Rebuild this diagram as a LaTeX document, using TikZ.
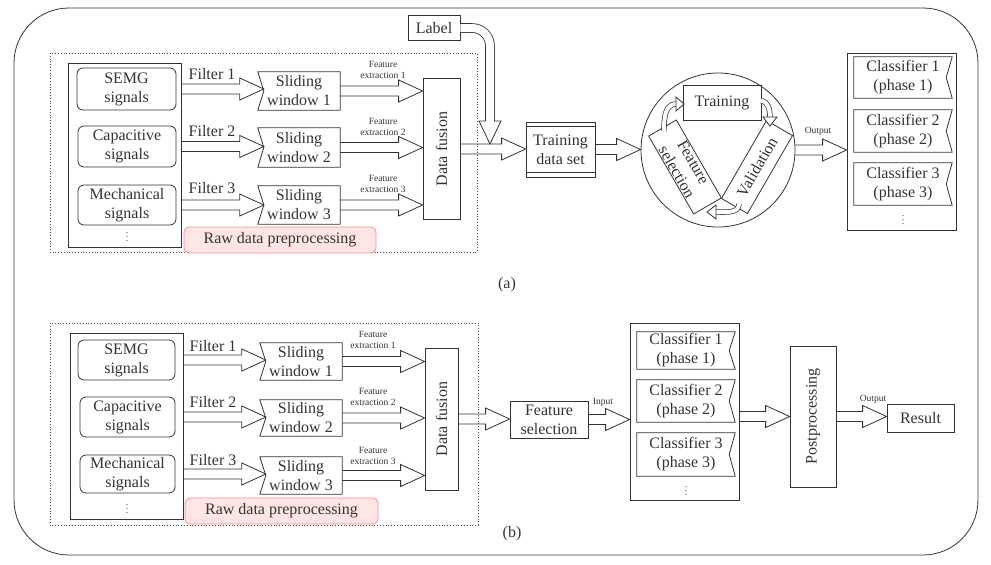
\documentclass[tikz,border=0pt]{standalone}
\usepackage{fontspec}
\setmainfont{Liberation Serif}
\usetikzlibrary{calc}
\newcommand\harr[2]{\draw[harrow] let \p1=(#1),\p2=(#2) in (\x1,\y1+5pt) -- (\x2-24pt,\y1+5pt) -- (\x2-24pt,\y1+11pt) -- (\x2,\y1) -- (\x2-24pt,\y1-11pt) -- (\x2-24pt,\y1-5pt) -- (\x1,\y1-5pt);}
\newcommand\clsbox[1]{\draw[ln] (#1.north west) -- (#1.north east) -- ([xshift=-6pt]#1.east) -- (#1.south east) -- (#1.south west) -- cycle;}
\newcommand\swbox[1]{\draw[ln] (#1.north west) -- (#1.north east) -- (#1.south east) -- (#1.south west) -- ([xshift=6pt]#1.west) -- cycle;}
\begin{document}
\begin{tikzpicture}[x=1pt,y=-1pt,
  ln/.style={line width=0.8pt, draw=black!80},
  harrow/.style={line width=0.8pt, draw=black!80, line join=miter},
  box/.style={draw=black!80, line width=0.8pt, align=center, inner sep=0pt, font=\fontsize{16}{19}\selectfont, text=black!80},
  plain/.style={align=center, inner sep=0pt, font=\fontsize{16}{19}\selectfont, text=black!80},
  rbox/.style={box, rounded corners=6pt},
  small/.style={align=center, inner sep=0pt, font=\fontsize{9.5}{11.5}\selectfont, text=black!80},
  lbl/.style={inner sep=0pt, font=\fontsize{16}{19}\selectfont, text=black!80},
  raw/.style={box, rounded corners=5pt, fill=red!10, draw=red!45},
  dotbox/.style={draw=black!70, line width=0.8pt, dotted},
]
\useasboundingbox (0,0) rectangle (991,565);
\draw[ln, rounded corners=55pt] (14,8) rectangle (978,555);

% ---------------- (a) ----------------
\draw[dotbox] (50,53) rectangle (477,252);
\node[box, minimum width=113, minimum height=184] (inA) at (124.5,155) {};
\node[rbox, minimum width=99, minimum height=42] (semgA) at (126.5,89) {SEMG\\signals};
\node[rbox, minimum width=98, minimum height=41] (capA) at (127,146.5) {Capacitive\\signals};
\node[rbox, minimum width=98, minimum height=40] (mecA) at (127,205) {Mechanical\\signals};
\node[small] (dotA) at (127,234) {$\vdots$};
\node[plain, minimum width=82, minimum height=38] (swA1) at (299,91) {Sliding\\window 1};
\node[plain, minimum width=82, minimum height=39] (swA2) at (299,147.5) {Sliding\\window 2};
\node[plain, minimum width=82, minimum height=38] (swA3) at (299,205) {Sliding\\window 3};
\swbox{swA1}\swbox{swA2}\swbox{swA3}
\node[box, minimum width=141, minimum height=37, rotate=90] (dfA) at (441.5,149) {Data fusion};
\node[raw, minimum width=192, minimum height=26] (rawA) at (280,240) {Raw data preprocessing};
\node[lbl] (f1A) at (212,74) {Filter 1};
\node[lbl] (f2A) at (212,131) {Filter 2};
\node[lbl] (f3A) at (212,188) {Filter 3};
\node[small] (e1A) at (383,70) {Feature\\extraction 1};
\node[small] (e2A) at (383,127) {Feature\\extraction 2};
\node[small] (e3A) at (383,184) {Feature\\extraction 3};
\harr{inA.east |- semgA.east}{[xshift=6pt]swA1.west}
\harr{inA.east |- capA.east}{[xshift=6pt]swA2.west}
\harr{inA.east |- mecA.east}{[xshift=6pt]swA3.west}
\harr{swA1.east}{dfA.north}
\harr{swA2.east}{dfA.north}
\harr{swA3.east}{dfA.north}

\node[box, minimum width=52, minimum height=25] (lab) at (434,28) {Label};
\node[box, minimum width=69, minimum height=55] (tds) at (560.5,149.5) {Training\\data set};
\draw[ln] ([yshift=-5pt]tds.north west) -- ([yshift=-5pt]tds.north east);
\draw[ln] ([yshift=5pt]tds.south west) -- ([yshift=5pt]tds.south east);
\node[draw=black!80, line width=0.8pt, circle, minimum size=154, inner sep=0pt] (cyc) at (718,150) {};
\harr{dfA.south}{tds.west}
\harr{tds.east}{cyc.west}
\draw[line width=0.8pt, draw=black!80, double=white, double distance=8pt] (lab.east) -- (472,28) to[out=0,in=90] (490,46) -- (490,121);
\draw[harrow, fill=white] (486,121) -- (479,121) -- (490,144) -- (501,121) -- (494,121);

\node[box, minimum width=78, minimum height=35] (train) at (722,102.5) {Training};
\node[box, fill=white, minimum width=90, minimum height=32, rotate=-60] (fsel) at (685,167) {Feature\\selection};
\node[box, fill=white, minimum width=90, minimum height=30, rotate=60] (valid) at (757,167) {Validation};
\draw[line width=0.7pt, draw=black!80, double=white, double distance=4pt] (664,131) to[out=90,in=180] (676,104);
\draw[harrow, fill=white] (676,97) -- (684,104) -- (676,111) -- cycle;
\draw[line width=0.7pt, draw=black!80, double=white, double distance=4pt] (761,101) to[out=0,in=90] (770,117);
\draw[harrow, fill=white] (763,117) -- (777,117) -- (770,126) -- cycle;
\draw[line width=0.7pt, draw=black!80, double=white, double distance=4pt] (739,204) to[out=-90,in=0] (716,212);
\draw[harrow, fill=white] (716,205) -- (716,219) -- (707,212) -- cycle;

\node[box, minimum width=109, minimum height=177] (clsA) at (901.5,141.5) {};
\node[plain, minimum width=98, minimum height=41] (c1A) at (903,77.5) {Classifier 1\\(phase 1)};
\node[plain, minimum width=98, minimum height=42] (c2A) at (903,131) {Classifier 2\\(phase 2)};
\node[plain, minimum width=98, minimum height=42] (c3A) at (903,184) {Classifier 3\\(phase 3)};
\clsbox{c1A}\clsbox{c2A}\clsbox{c3A}
\node[small] (dotC) at (903,217) {$\vdots$};
\harr{cyc.east}{clsA.west}
\node[small] (outA) at (818,131) {Output};
\node[plain] (capa) at (507,285) {(a)};

% ---------------- (b) ----------------
\draw[dotbox] (50,323) rectangle (478,525);
\node[box, minimum width=113, minimum height=186] (inB) at (126.5,426) {};
\node[rbox, minimum width=97, minimum height=40] (semgB) at (126.5,360) {SEMG\\signals};
\node[rbox, minimum width=95, minimum height=40] (capB) at (127.5,417) {Capacitive\\signals};
\node[rbox, minimum width=95, minimum height=38] (mecB) at (127.5,474) {Mechanical\\signals};
\node[small] (dotB) at (127,506) {$\vdots$};
\node[plain, minimum width=82, minimum height=37] (swB1) at (301,361.5) {Sliding\\window 1};
\node[plain, minimum width=82, minimum height=36] (swB2) at (301,418) {Sliding\\window 2};
\node[plain, minimum width=82, minimum height=37] (swB3) at (301,475.5) {Sliding\\window 3};
\swbox{swB1}\swbox{swB2}\swbox{swB3}
\node[box, minimum width=142, minimum height=33, rotate=90] (dfB) at (441.5,419) {Data fusion};
\node[raw, minimum width=193, minimum height=26] (rawB) at (281.5,511) {Raw data preprocessing};
\node[lbl] (f1B) at (213,346) {Filter 1};
\node[lbl] (f2B) at (213,402) {Filter 2};
\node[lbl] (f3B) at (213,460) {Filter 3};
\node[small] (e1B) at (373,340) {Feature\\extraction 1};
\node[small] (e2B) at (373,397) {Feature\\extraction 2};
\node[small] (e3B) at (373,456) {Feature\\extraction 3};
\harr{inB.east |- semgB.east}{[xshift=6pt]swB1.west}
\harr{inB.east |- capB.east}{[xshift=6pt]swB2.west}
\harr{inB.east |- mecB.east}{[xshift=6pt]swB3.west}
\harr{swB1.east}{dfB.north}
\harr{swB2.east}{dfB.north}
\harr{swB3.east}{dfB.north}

\node[box, minimum width=78, minimum height=37] (fselB) at (549,419.5) {Feature\\selection};
\harr{dfB.south}{fselB.west}
\node[box, minimum width=109, minimum height=177] (clsB) at (684.5,411.5) {};
\node[plain, minimum width=98, minimum height=37] (c1B) at (686,350.5) {Classifier 1\\(phase 1)};
\node[plain, minimum width=98, minimum height=42] (c2B) at (686,401) {Classifier 2\\(phase 2)};
\node[plain, minimum width=98, minimum height=43] (c3B) at (686,454.5) {Classifier 3\\(phase 3)};
\clsbox{c1B}\clsbox{c2B}\clsbox{c3B}
\node[small] (dotD) at (686,488) {$\vdots$};
\harr{fselB.east}{clsB.west}
\node[small] (inL) at (603,402) {Input};
\node[box, minimum width=141, minimum height=46, rotate=90] (post) at (813,416.5) {Postprocessing};
\harr{clsB.east |- post.center}{post.north}
\node[box, minimum width=67, minimum height=28] (res) at (920.5,418) {Result};
\harr{post.south}{res.west}
\node[small] (outB) at (873,399) {Output};
\node[plain] (capb) at (512,534) {(b)};
\end{tikzpicture}
\end{document}
